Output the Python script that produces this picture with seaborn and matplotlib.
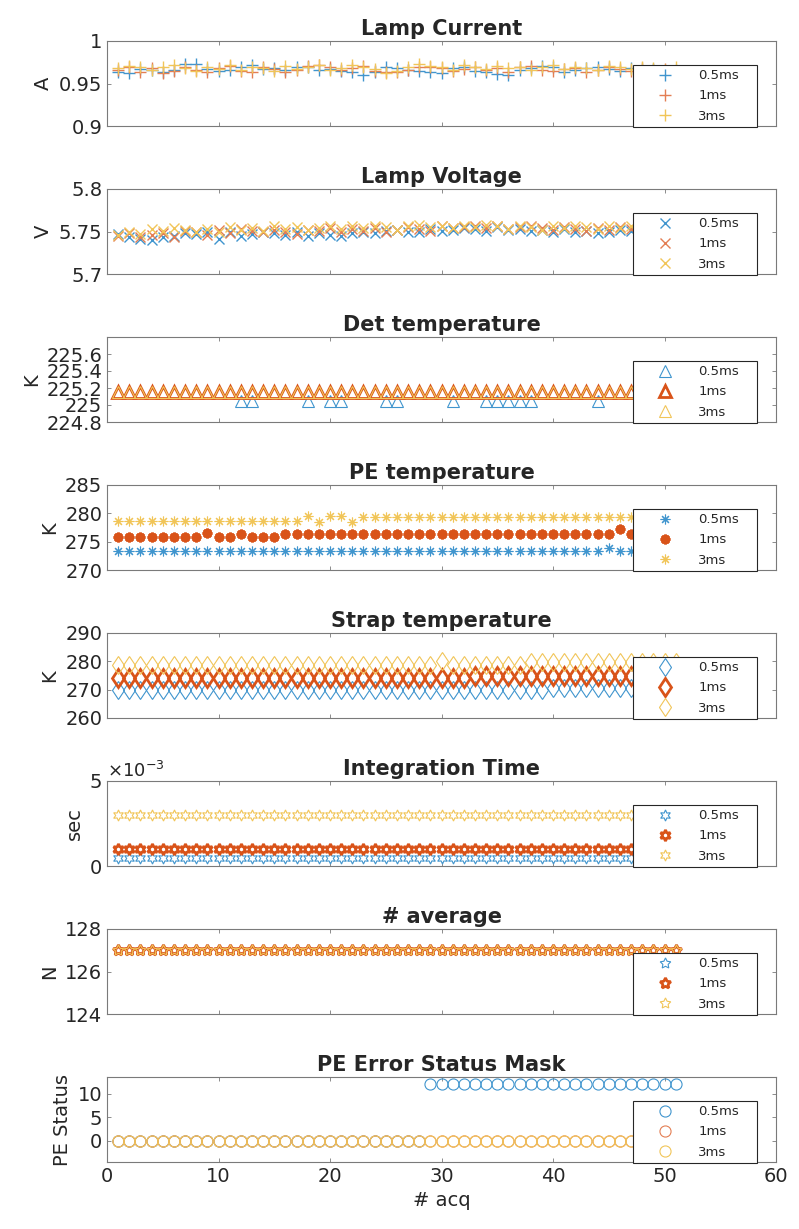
import numpy as np
import matplotlib
matplotlib.use("Agg")
import matplotlib.pyplot as plt
from matplotlib.ticker import FuncFormatter
import seaborn as sns

# acquisition index
acq = list(range(1, 52))
labels = ["0.5ms", "1ms", "3ms"]

cur_05 = [0.964, 0.962, 0.967, 0.966, 0.963, 0.966, 0.973, 0.973, 0.967, 0.965,
          0.966, 0.969, 0.972, 0.967, 0.968, 0.966, 0.969, 0.970, 0.966, 0.967,
          0.965, 0.964, 0.960, 0.963, 0.970, 0.968, 0.966, 0.965, 0.964, 0.962,
          0.968, 0.970, 0.965, 0.964, 0.961, 0.960, 0.966, 0.968, 0.971, 0.969,
          0.964, 0.966, 0.968, 0.970, 0.967, 0.965, 0.968, 0.966, 0.967, 0.965,
          0.966]
cur_1 = [0.966, 0.969, 0.964, 0.968, 0.962, 0.965, 0.970, 0.966, 0.964, 0.968,
         0.971, 0.965, 0.963, 0.969, 0.967, 0.964, 0.966, 0.971, 0.972, 0.970,
         0.966, 0.968, 0.971, 0.965, 0.963, 0.964, 0.966, 0.969, 0.970, 0.968,
         0.965, 0.967, 0.970, 0.966, 0.968, 0.964, 0.969, 0.971, 0.966, 0.965,
         0.967, 0.968, 0.963, 0.966, 0.969, 0.967, 0.965, 0.968, 0.966, 0.967,
         0.965]
cur_3 = [0.968, 0.971, 0.969, 0.966, 0.970, 0.972, 0.968, 0.965, 0.970, 0.967,
         0.972, 0.966, 0.970, 0.968, 0.965, 0.971, 0.967, 0.969, 0.972, 0.966,
         0.968, 0.972, 0.970, 0.967, 0.962, 0.965, 0.970, 0.973, 0.971, 0.969,
         0.966, 0.972, 0.969, 0.967, 0.971, 0.968, 0.970, 0.966, 0.969, 0.972,
         0.967, 0.970, 0.968, 0.966, 0.971, 0.969, 0.967, 0.970, 0.968, 0.966,
         0.969]

volt_05 = [5.747, 5.743, 5.741, 5.740, 5.744, 5.745, 5.748, 5.747, 5.749, 5.741,
           5.750, 5.745, 5.747, 5.749, 5.748, 5.746, 5.749, 5.745, 5.748, 5.746,
           5.745, 5.748, 5.750, 5.748, 5.751, 5.752, 5.750, 5.749, 5.753, 5.751,
           5.752, 5.754, 5.753, 5.751, 5.755, 5.752, 5.753, 5.751, 5.752, 5.750,
           5.753, 5.749, 5.751, 5.748, 5.750, 5.752, 5.751, 5.753, 5.752, 5.754,
           5.753]
volt_1 = [5.745, 5.748, 5.743, 5.746, 5.748, 5.744, 5.751, 5.749, 5.746, 5.752,
          5.748, 5.753, 5.751, 5.749, 5.752, 5.750, 5.747, 5.752, 5.751, 5.754,
          5.750, 5.753, 5.751, 5.754, 5.750, 5.752, 5.755, 5.753, 5.751, 5.756,
          5.754, 5.755, 5.757, 5.754, 5.756, 5.753, 5.755, 5.757, 5.754, 5.752,
          5.755, 5.753, 5.751, 5.754, 5.752, 5.755, 5.753, 5.754, 5.756, 5.755,
          5.754]
volt_3 = [5.746, 5.750, 5.747, 5.753, 5.751, 5.754, 5.752, 5.749, 5.753, 5.750,
          5.755, 5.752, 5.754, 5.751, 5.756, 5.753, 5.755, 5.752, 5.754, 5.757,
          5.753, 5.756, 5.754, 5.757, 5.755, 5.752, 5.756, 5.758, 5.755, 5.757,
          5.754, 5.757, 5.755, 5.758, 5.756, 5.753, 5.757, 5.755, 5.752, 5.756,
          5.754, 5.757, 5.755, 5.753, 5.756, 5.754, 5.757, 5.755, 5.756, 5.754,
          5.755]

det_05 = [225.15] * 10 + \
         [225.15, 225.05, 225.05, 225.15, 225.15, 225.15, 225.15, 225.05, 225.15, 225.05,
          225.05, 225.15, 225.15, 225.15, 225.05, 225.05, 225.15, 225.15, 225.15, 225.15,
          225.05, 225.15, 225.15, 225.05, 225.05, 225.05, 225.05, 225.05, 225.15, 225.15,
          225.15, 225.15, 225.15, 225.05, 225.15, 225.15, 225.15, 225.15, 225.15, 225.15,
          225.15]
det_1 = [225.15] * 51
det_3 = [225.15] * 51

pe_05 = [273.3] * 44 + [273.9] + [273.3] * 6
pe_1 = [275.8] * 8 + [276.5] + [275.8] * 2 + [276.4] + [275.8] * 3 + \
       [276.3] * 30 + [277.2] + [276.3] * 5
pe_3 = [278.7] * 17 + [279.6, 278.5, 279.5, 279.5, 278.5] + [279.4] * 29

strap_05 = [269.8] * 39 + [270.6] * 12
strap_1 = [274.0] * 32 + [274.8] * 19
strap_3 = [278.8] * 29 + [280.0] + [278.8] * 7 + [279.8] * 14

tint_05 = [0.0005] * 51
tint_1 = [0.001] * 51
tint_3 = [0.003] * 51

navg_05 = [127] * 51
navg_1 = [127] * 51
navg_3 = [127] * 51

status_05 = [0] * 28 + [12] * 23
status_1 = [0] * 51
status_3 = [0] * 51

# matlab default order, thin markers a bit lighter (they look washed out in the original)
colors_thin = ["#4095CE", "#E37E53", "#F1C558"]
colors_thick = ["#0072BD", "#D95319", "#EDB120"]

panels = [
    ("Lamp Current", "A", [cur_05, cur_1, cur_3], "+", False, 9, (0.9, 1.0), [0.9, 0.95, 1.0]),
    ("Lamp Voltage", "V", [volt_05, volt_1, volt_3], "x", False, 7, (5.7, 5.8), [5.7, 5.75, 5.8]),
    ("Det temperature", "K", [det_05, det_1, det_3], "^", True, 8, (224.8, 225.8),
     [224.8, 225.0, 225.2, 225.4, 225.6]),
    ("PE temperature", "K", [pe_05, pe_1, pe_3], (8, 2, 0), True, 7, (270, 285), [270, 275, 280, 285]),
    ("Strap temperature", "K", [strap_05, strap_1, strap_3], "d", True, 9.5, (260, 290),
     [260, 270, 280, 290]),
    ("Integration Time", "sec", [tint_05, tint_1, tint_3], (6, 1, 0), True, 8, (0, 0.005), [0, 0.005]),
    ("# average", "N", [navg_05, navg_1, navg_3], (5, 1, 0), True, 8, (124, 128), [124, 126, 128]),
    ("PE Error Status Mask", "PE Status", [status_05, status_1, status_3], "o", False, 8,
     (-4.5, 13.5), [0, 5, 10]),
]

sns.set_style("ticks")
plt.rcParams["font.family"] = ["DejaVu Sans"]
plt.rcParams["axes.edgecolor"] = "#7a7a7a"
plt.rcParams["xtick.color"] = "#7a7a7a"
plt.rcParams["ytick.color"] = "#7a7a7a"
plt.rcParams["xtick.labelcolor"] = "#262626"
plt.rcParams["ytick.labelcolor"] = "#262626"

W, H = 799, 1229
fig = plt.figure(figsize=(W / 100, H / 100), dpi=100)

for i, (title, ylab, series, marker, thick, msize, ylim, yticks) in enumerate(panels):
    top = 41 + 148 * i
    ax = fig.add_axes([107 / W, 1 - (top + 85) / H, 669 / W, 85 / H])
    for k, (y, lab) in enumerate(zip(series, labels)):
        bold = thick and lab == "1ms"
        c = colors_thick[k] if bold else colors_thin[k]
        if bold:
            lw = 2.0
        elif marker in ("+", "x"):
            lw = 1.0
        else:
            lw = 0.8
        sns.lineplot(x=acq, y=y, ax=ax, color=c, marker=marker, linestyle="none",
                     markersize=msize, markerfacecolor="none", markeredgecolor=c,
                     markeredgewidth=lw, label=lab, estimator=None, sort=False)
    ax.set_xlim(0, 60)
    ax.set_xticks([0, 10, 20, 30, 40, 50, 60])
    ax.set_ylim(*ylim)
    ax.set_yticks(yticks)
    ax.tick_params(direction="in", top=True, right=True, length=3, width=0.6, labelsize=14)
    for s in ax.spines.values():
        s.set_linewidth(0.8)
    ax.set_title(title, fontsize=15, fontweight="bold", pad=4)
    ax.set_ylabel(ylab, fontsize=14, color="#262626")
    if i < len(panels) - 1:
        ax.tick_params(labelbottom=False)
        ax.set_xlabel("")
    else:
        ax.set_xlabel("# acq", fontsize=14, color="#262626")
    if title == "Integration Time":
        ax.ticklabel_format(style="sci", axis="y", scilimits=(0, 0), useMathText=True)
        ax.yaxis.get_offset_text().set_fontsize(13)
        ax.yaxis.get_offset_text().set_color("#262626")
    else:
        ax.yaxis.set_major_formatter(FuncFormatter(lambda v, p: f"{v:g}"))
    leg = ax.legend(loc="lower left", bbox_to_anchor=(0.786, -0.015, 0.186, 0.79),
                    mode="expand", fontsize=9.5, frameon=True, fancybox=False,
                    framealpha=1, edgecolor="#262626", borderaxespad=0,
                    handlelength=4.2, handletextpad=0.4, labelspacing=0.55,
                    borderpad=0.35, numpoints=1)
    leg.get_frame().set_linewidth(0.8)

fig.savefig("out.png", dpi=100)
